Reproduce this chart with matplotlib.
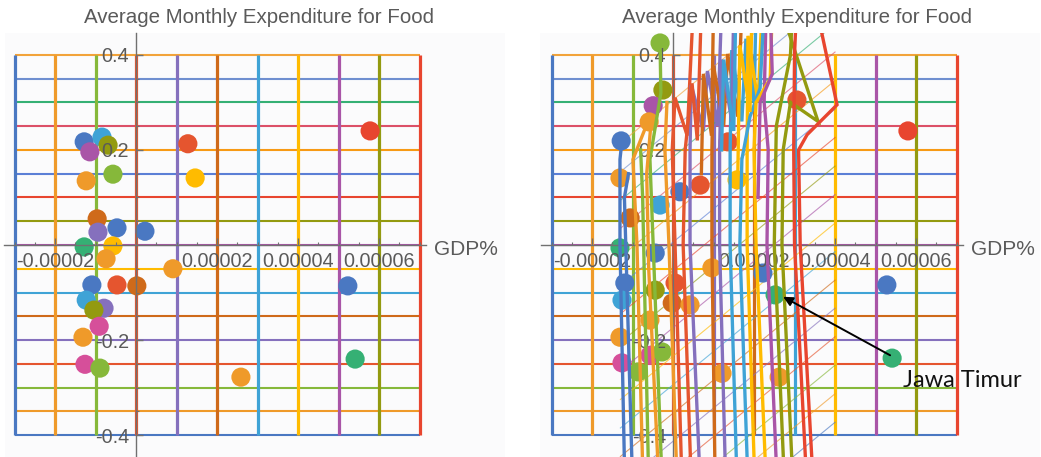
import numpy as np
import matplotlib.pyplot as plt
from matplotlib.patches import Rectangle
from matplotlib.ticker import MultipleLocator

plt.rcParams['font.family'] = ['Liberation Sans', 'DejaVu Sans']

W, H = 1041, 457
E5 = 1e-5  # GDP values below are written in units of 1e-5

# default colour cycle used for every series (last one: pink for points)
palette = ['#4a78c2', '#ef9a2a', '#86b83a', '#e5552f', '#8570bd', '#cf6a1a',
           '#3fa3d6', '#ffbb00', '#a955a7', '#939a10', '#e8452f', '#5b7fd6',
           '#f79a15', '#dc5068', '#35b074', '#6f8fd0', '#f2a33a', '#d64f9a']

# reference mesh
mesh_gdp = [-3, -2, -1, 0, 1, 2, 3, 4, 5, 6, 7]
mesh_food = [-0.4, -0.35, -0.3, -0.25, -0.2, -0.15, -0.1, -0.05, 0.0,
             0.05, 0.1, 0.15, 0.2, 0.25, 0.3, 0.35, 0.4]

# provinces, first panel
gdp_a = [-1.28, -0.84, -0.69, -1.14, 1.28, 5.78, -1.23, -0.57, 1.46, -0.96,
         -0.94, -0.47, 0.22, -1.28, -0.57, -0.74, 0.91, -1.09, -0.47, 0.02,
         5.23, -1.23, -0.79, -1.04, -0.91, -1.31, -1.26, -0.89, 2.59, 5.41]
food_a = [0.217, 0.227, 0.21, 0.196, 0.213, 0.24, 0.135, 0.149, 0.141, 0.055,
          0.027, 0.036, 0.029, -0.004, -0.002, -0.029, -0.05, -0.084, -0.084, -0.086,
          -0.086, -0.116, -0.133, -0.137, -0.171, -0.194, -0.251, -0.259, -0.278, -0.24]
col_a = [1, 7, 10, 9, 4, 11, 2, 3, 8, 6,
         5, 1, 1, 15, 8, 2, 2, 1, 4, 6,
         1, 7, 5, 10, 18, 2, 18, 3, 2, 15]

# provinces, second panel
gdp_b = [-0.32, -0.25, -0.49, -0.59, -1.28, -1.31, 1.36, 1.58, 3.06, 5.80,
         0.67, 0.17, -0.32, -1.06, -1.31, -0.44, 0.96, 2.22, 2.52, 5.28,
         5.41, 2.62, 1.21, 0.05, -0.02, 0.42, -1.19, -1.26, -0.44, -0.57,
         -1.31, -1.26, -0.57, -0.86, -0.27]
food_b = [0.425, 0.326, 0.293, 0.259, 0.219, 0.141, 0.217, 0.137, 0.305, 0.24,
          0.126, 0.112, 0.084, 0.057, -0.006, -0.017, -0.048, -0.059, -0.105, -0.084,
          -0.238, -0.278, -0.27, -0.08, -0.122, -0.126, -0.08, -0.116, -0.095, -0.158,
          -0.194, -0.248, -0.232, -0.267, -0.225]
col_b = [3, 10, 9, 2, 1, 2, 4, 8, 4, 11,
         4, 1, 7, 6, 15, 1, 2, 1, 15, 1,
         15, 2, 2, 4, 6, 2, 1, 7, 10, 2,
         2, 18, 18, 3, 3]

# transformed horizontal mesh lines (value at gdp -1.3 and at gdp 4.0)
shear_gdp = [-1.3, 4.0]
shear_left = [-0.744, -0.684, -0.624, -0.564, -0.504, -0.445, -0.385, -0.325, -0.265,
              -0.205, -0.145, -0.085, -0.025, 0.035, 0.094, 0.154, 0.214]
shear_right = [-0.373, -0.313, -0.253, -0.193, -0.133, -0.074, -0.014, 0.046, 0.106,
               0.166, 0.226, 0.286, 0.346, 0.406, 0.465, 0.525, 0.585]

# transformed vertical mesh lines (gdp, food) from bottom to top
warp_gdp = [
    [-1.19, -1.31, -1.31, -1.26],
    [-0.74, -0.89, -0.99, -0.62],
    [-0.27, -0.49, -0.57, -0.30, -0.32],
    [0.22, 0.05, -0.02, 0.05, 0.35, 0.50],
    [0.67, 0.42, 0.42, 0.45, 0.75, 0.85, 1.10, 1.20],
    [1.04, 0.96, 0.96, 1.00, 1.25, 1.35, 1.60, 1.70],
    [1.58, 1.41, 1.41, 1.45, 1.70, 1.80, 2.00, 2.05],
    [2.02, 1.83, 1.83, 1.85, 2.10, 2.20],
    [2.57, 2.32, 2.35, 2.25, 2.30],
    [2.96, 2.69, 2.72, 2.90, 3.58, 2.81, 2.78],
    [3.46, 3.14, 3.10, 3.31, 4.05, 3.63, 3.55],
    # second pass of the same lines
    [-1.00, -1.15, -1.20, -1.10],
    [0.10, -0.10, -0.20, -0.15],
    [-0.60, -0.70, -0.75, -0.80],
    [0.45, 0.25, 0.30, 0.47, 0.60, 0.70],
    [1.30, 1.15, 1.15, 1.20, 1.45, 1.50],
    [-0.35, -0.60, -0.65, -0.55],
    [1.85, 1.65, 1.70, 1.90, 2.15, 2.25],
    [2.30, 2.05, 2.00, 2.05, 2.40, 2.45],
    [2.75, 2.50, 2.55, 2.90, 2.95],
    [3.30, 3.00, 2.98, 3.00, 3.05],
    # upper zigzags
    [0.70, 0.75, 0.95, 1.00],
    [1.20, 1.25, 1.50, 1.55],
    [1.60, 1.65, 1.90, 1.95],
    [2.10, 2.15, 2.45, 2.40],
]
warp_food = [
    [-0.50, 0.0, 0.18, 0.22],
    [-0.50, 0.0, 0.18, 0.26],
    [-0.50, 0.0, 0.18, 0.32, 0.42],
    [-0.50, 0.0, 0.20, 0.31, 0.23, 0.50],
    [-0.50, 0.0, 0.20, 0.337, 0.24, 0.366, 0.25, 0.50],
    [-0.50, 0.0, 0.20, 0.377, 0.25, 0.402, 0.27, 0.50],
    [-0.50, 0.0, 0.20, 0.41, 0.26, 0.434, 0.30, 0.50],
    [-0.50, 0.0, 0.20, 0.44, 0.30, 0.50],
    [-0.50, 0.0, 0.20, 0.30, 0.50],
    [-0.50, 0.0, 0.20, 0.30, 0.26, 0.46, 0.50],
    [-0.50, 0.0, 0.20, 0.232, 0.295, 0.463, 0.50],
    [-0.50, -0.05, 0.10, 0.15],
    [-0.50, 0.0, 0.20, 0.30],
    [-0.50, -0.10, 0.10, 0.20],
    [-0.50, 0.0, 0.20, 0.34, 0.22, 0.50],
    [-0.50, 0.0, 0.20, 0.39, 0.26, 0.50],
    [-0.50, -0.05, 0.15, 0.25],
    [-0.50, 0.0, 0.18, 0.27, 0.33, 0.50],
    [-0.50, 0.0, 0.20, 0.30, 0.35, 0.50],
    [-0.50, 0.0, 0.25, 0.40, 0.50],
    [-0.50, 0.0, 0.20, 0.40, 0.50],
    [0.15, 0.36, 0.23, 0.50],
    [0.20, 0.39, 0.24, 0.50],
    [0.15, 0.42, 0.28, 0.50],
    [0.10, 0.30, 0.36, 0.50],
]
warp_col = [1, 2, 3, 4, 5, 6, 7, 8, 9, 10, 11,
            1, 2, 3, 4, 5, 2, 7, 8, 10, 11,
            6, 7, 8, 9]

xticks = [-2, 2, 4, 6]
xtick_labels = ['-0.00002', '0.00002', '0.00004', '0.00006']
yticks = [-0.4, -0.2, 0.2, 0.4]
ytick_labels = ['-0.4', '-0.2', '0.2', '0.4']

title = 'Average Monthly Expenditure for Food'
text_gray = '#5a5a5a'
axis_gray = '#707070'


def setup_panel(ax):
    ax.set_xlim(-3.25 * E5, 7.15 * E5)
    ax.set_ylim(-0.446, 0.446)
    ax.set_facecolor('none')

    # coloured mesh
    for i, gx in enumerate(mesh_gdp):
        ax.plot([gx * E5, gx * E5], [mesh_food[0], mesh_food[-1]],
                color=palette[i], lw=2.3, zorder=1.1, solid_capstyle='butt')
    for i, fy in enumerate(mesh_food):
        ax.plot([mesh_gdp[0] * E5, mesh_gdp[-1] * E5], [fy, fy],
                color=palette[i], lw=1.5, zorder=1, solid_capstyle='butt')

    # axes through the origin
    for side in ['top', 'right']:
        ax.spines[side].set_visible(False)
    for side in ['left', 'bottom']:
        ax.spines[side].set_position(('data', 0))
        ax.spines[side].set_color(axis_gray)
        ax.spines[side].set_linewidth(1.0)
        ax.spines[side].set_zorder(2.6)

    ax.set_xticks([t * E5 for t in xticks], labels=xtick_labels)
    ax.set_yticks(yticks, labels=ytick_labels)
    ax.xaxis.set_minor_locator(MultipleLocator(0.5 * E5))
    ax.yaxis.set_minor_locator(MultipleLocator(0.05))
    ax.tick_params(which='major', direction='in', length=5, width=1,
                   color=axis_gray, labelsize=14.3, labelcolor=text_gray, pad=5)
    ax.tick_params(which='minor', direction='in', length=2.5, width=0.8,
                   color=axis_gray)
    ax.set_axisbelow(False)
    ax.xaxis.set_zorder(2.6)
    ax.yaxis.set_zorder(2.6)

    ax.text(7.35 * E5, -0.021, 'GDP%', fontsize=15, color=text_gray,
            ha='left', va='baseline', clip_on=False)


fig = plt.figure(figsize=(W / 100, H / 100), dpi=100)

# faint backdrop behind each plot
for left in [5, 540]:
    fig.add_artist(Rectangle((left / W, 0), 500 / W, 424 / H, transform=fig.transFigure,
                             facecolor='#fbfbfc', edgecolor='none', zorder=-10))

ax1 = fig.add_axes([4.4 / W, 0, 421.2 / W, 424 / H])
ax2 = fig.add_axes([541.4 / W, 0, 421.2 / W, 424 / H])

for ax in (ax1, ax2):
    setup_panel(ax)

fig.text(259 / W, 1 - 23 / H, title, ha='center', va='baseline',
         fontsize=14.8, color=text_gray)
fig.text(797 / W, 1 - 23 / H, title, ha='center', va='baseline',
         fontsize=14.8, color=text_gray)

# left panel: provinces over the mesh
ax1.scatter(np.array(gdp_a) * E5, food_a, s=190, c=[palette[c - 1] for c in col_a],
            edgecolors='none', zorder=2)

# right panel: sheared mesh, provinces and warped lines
for i in range(len(shear_left)):
    ax2.plot(np.array(shear_gdp) * E5, [shear_left[i], shear_right[i]],
             color=palette[i], lw=0.8, alpha=0.65, zorder=1.5)

ax2.scatter(np.array(gdp_b) * E5, food_b, s=190, c=[palette[c - 1] for c in col_b],
            edgecolors='none', zorder=2)

for gx, fy, c in zip(warp_gdp, warp_food, warp_col):
    ax2.plot(np.array(gx) * E5, fy, color=palette[c - 1], lw=2.4, zorder=3,
             solid_joinstyle='miter')

ax2.annotate('', xy=(2.72 * E5, -0.109), xytext=(5.36 * E5, -0.232),
             arrowprops=dict(arrowstyle='-|>', color='black', lw=1.4,
                             mutation_scale=14, shrinkA=0, shrinkB=0),
             zorder=6)
ax2.text(5.68 * E5, -0.299, 'Jawa Timur', fontsize=17, color='#111111',
         family=['Lato', 'DejaVu Sans'], ha='left', va='baseline', zorder=6,
         clip_on=False)

fig.savefig('out.png', dpi=100)
